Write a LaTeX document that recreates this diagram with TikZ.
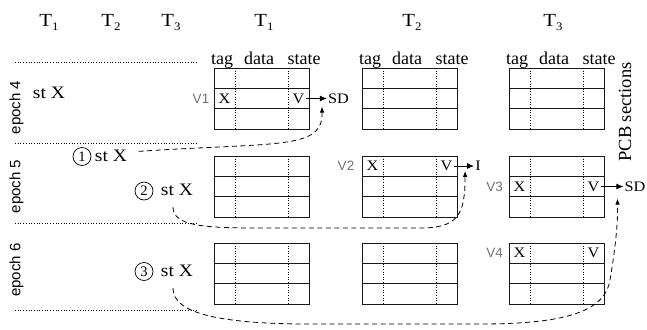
\documentclass[tikz,border=0pt]{standalone}
\usepackage{fontspec}
\setmainfont{Liberation Serif}
\setsansfont{Liberation Sans}
\newfontfamily\wsf{Liberation Serif}[FakeStretch=1.12]
\usetikzlibrary{arrows.meta,calc}

\tikzset{
  pcb/.style={draw=black!90, line width=0.9pt, minimum width=95pt, minimum height=61pt,
    inner sep=0pt, outer sep=0pt, anchor=north west},
  rowline/.style={draw=black!90, line width=0.9pt},
  colline/.style={dotted, line width=0.6pt},
  epochsep/.style={dotted, line width=0.7pt},
  thead/.style={font=\wsf\fontsize{18.5}{18.5}\selectfont, anchor=base, inner sep=0pt},
  colhead/.style={font=\fontsize{18}{18}\selectfont, anchor=base, inner sep=0pt},
  cellx/.style={font=\wsf\fontsize{14.5}{14.5}\selectfont, inner sep=1pt},
  vlabel/.style={font=\sffamily\fontsize{13.5}{13.5}\selectfont, text=black!55},
  epochlbl/.style={font=\sffamily\fontsize{15}{15}\selectfont, rotate=90},
  stx/.style={font=\wsf\fontsize{17.5}{17.5}\selectfont, anchor=base},
  stepnum/.style={draw, circle, line width=0.7pt, minimum size=18pt, inner sep=0pt,
    font=\fontsize{14.5}{14.5}\selectfont},
  solidarrow/.style={line width=0.9pt, -{Latex[length=7pt,width=6pt]}},
  dasharrow/.style={line width=0.8pt, dash pattern=on 5pt off 3.5pt,
    -{Latex[length=6pt,width=4.5pt]}},
}

% one PCB section table: name, left x, top y
\newcommand\pcbtab[3]{%
  \node[pcb] (#1) at (#2,#3) {};
  \draw[rowline] ($(#1.north west)!1/3!(#1.south west)$) -- ($(#1.north east)!1/3!(#1.south east)$);
  \draw[rowline] ($(#1.north west)!2/3!(#1.south west)$) -- ($(#1.north east)!2/3!(#1.south east)$);
  \draw[colline] ($(#1.north west)+(21,0)$) -- ($(#1.south west)+(21,0)$);
  \draw[colline] ($(#1.north west)+(74,0)$) -- ($(#1.south west)+(74,0)$);
}
% column headings above a table
\newcommand\pcbhead[1]{%
  \node[colhead] (#1-tag) at ($(#1.north west)+(8,-4)$) {tag};
  \node[colhead] (#1-data) at ($(#1.north west)+(45,-4)$) {data};
  \node[colhead] (#1-state) at ($(#1.north west)+(90,-4)$) {state};
}
% thread heading T with a lowered index
\newcommand\thr[1]{T\raisebox{-0.42ex}{\fontsize{11.5}{11.5}\selectfont #1}}

\begin{document}
\begin{tikzpicture}[x=1pt, y=-1pt]
\useasboundingbox (0,0) rectangle (647,329);

% thread headings
\node[thead] (h1) at (49,27) {\thr{1}};
\node[thead] (h2) at (111,27) {\thr{2}};
\node[thead] (h3) at (171,27) {\thr{3}};
\node[thead] (p1) at (264,27) {\thr{1}};
\node[thead] (p2) at (412,27) {\thr{2}};
\node[thead] (p3) at (553,27) {\thr{3}};

% epoch separators
\draw[epochsep] (15,62) -- (198,62);
\draw[epochsep] (15,143) -- (198,143);
\draw[epochsep] (15,223) -- (198,223);
\draw[epochsep] (15,310) -- (198,310);

% epoch labels
\node[epochlbl] (e4) at (16.5,107.5) {epoch 4};
\node[epochlbl] (e5) at (16.5,186.5) {epoch 5};
\node[epochlbl] (e6) at (16.5,270) {epoch 6};

% PCB tables: one column per thread, one row per epoch
\pcbtab{a4}{214}{68}  \pcbtab{b4}{362}{68}  \pcbtab{c4}{509}{68}
\pcbtab{a5}{214}{156} \pcbtab{b5}{362}{156} \pcbtab{c5}{509}{156}
\pcbtab{a6}{214}{243} \pcbtab{b6}{362}{243} \pcbtab{c6}{509}{243}
\pcbhead{a4} \pcbhead{b4} \pcbhead{c4}

\node[font=\fontsize{18.5}{18.5}\selectfont, rotate=90] (pcb) at (625,112) {PCB sections};

% stores
\node[stx] (s0) at (49,98) {st X};
\node[stepnum] (n1) at (82,156.5) {1};
\node[stx] (s1) at (111,161) {st X};
\node[stepnum] (n2) at (144,191) {2};
\node[stx] (s2) at (177,195.5) {st X};
\node[stepnum] (n3) at (144,271.5) {3};
\node[stx] (s3) at (177,276.5) {st X};

% lines holding X
\node[vlabel] (v1) at (201,98.5) {V1};
\node[cellx] (x1) at (224.5,98.5) {X};
\node[cellx] (y1) at (298.5,98.5) {V};
\node[cellx] (sd1) at (338.5,98.5) {SD};
\draw[solidarrow] (y1.east) -- (sd1.west);

\node[vlabel] (v2) at (346,166) {V2};
\node[cellx] (x2) at (372.5,166) {X};
\node[cellx] (y2) at (446.5,166) {V};
\node[cellx] (inv) at (478,166) {I};
\draw[solidarrow] (y2.east) -- (inv.west);

\node[vlabel] (v3) at (494.5,186.5) {V3};
\node[cellx] (x3) at (519.5,186.5) {X};
\node[cellx] (y3) at (593.5,186.5) {V};
\node[cellx] (sd3) at (635,186.5) {SD};
\draw[solidarrow] (y3.east) -- (sd3.west);

\node[vlabel] (v4) at (494.5,253) {V4};
\node[cellx] (x4) at (519.5,253) {X};
\node[cellx] (y4) at (593.5,253) {V};

% coherence actions triggered by each store
\coordinate (from1) at ($(s1.east)+(8,-4)$);
\coordinate (to1) at ($(sd1.south west)+(-5,2)$);
\draw[dasharrow] (from1) .. controls (280,142) and (323,150) .. (to1);

\coordinate (from2) at ($(s2.south)+(-4,8)$);
\coordinate (to2) at ($(inv.south west)+(-9,-1)$);
\draw[dasharrow] (from2) .. controls ($(from2)+(0,19)$) and (205,228) .. (260,228)
  -- (420,228) .. controls (458,228) and (465,215) .. (to2);

\coordinate (from3) at ($(s3.south)+(-4,8)$);
\coordinate (to3) at ($(sd3.south west)+(-6,6)$);
\draw[dasharrow] (from3) .. controls ($(from3)+(0,24)$) and (215,323) .. (300,324)
  -- (480,324) .. controls (570,324) and (605,310) .. (610,280)
  .. controls (615,250) and (618,225) .. (to3);
\end{tikzpicture}
\end{document}
